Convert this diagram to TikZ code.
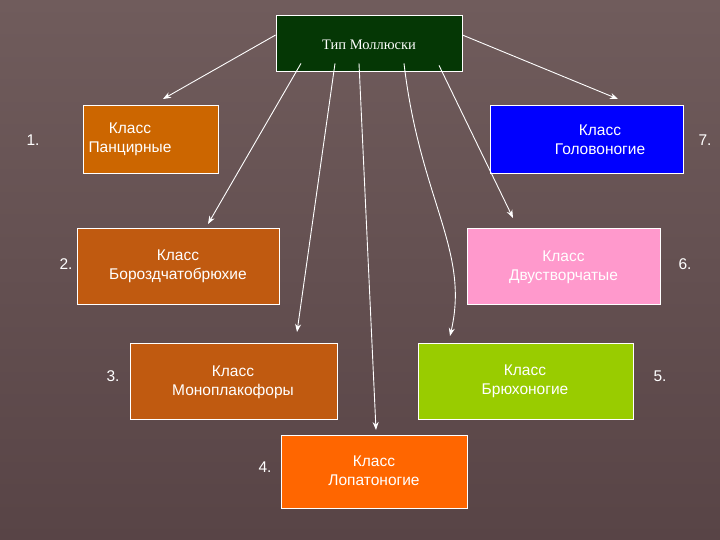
\documentclass[tikz,border=0pt]{standalone}
\usepackage{fontspec}
\setmainfont{Liberation Sans}
\newfontfamily\serifru{Liberation Serif}
\usetikzlibrary{arrows.meta}
\begin{document}
\begin{tikzpicture}[x=1pt,y=-1pt,
 box/.style={draw=white,line width=0.8pt,inner sep=0pt},
 txt/.style={text=white,align=center,font=\fontsize{15.5}{19}\selectfont},
 num/.style={text=white,font=\fontsize{15.5}{19}\selectfont},
 arr/.style={draw=white,line width=0.9pt,-{Stealth[length=8pt,width=6pt]}}]
\shade[top color={rgb,255:red,112;green,92;blue,92},bottom color={rgb,255:red,88;green,68;blue,70}] (0,0) rectangle (720,540);
\useasboundingbox (0,0) rectangle (720,540);
\node[box,fill={rgb,255:red,5;green,55;blue,5},minimum width=186pt,minimum height=56pt] (top) at (369,43) {};
\node[txt,font=\serifru\fontsize{14.5}{17}\selectfont] (topt) at (369,45) {Тип Моллюски};
\node[box,fill={rgb,255:red,204;green,102;blue,0},minimum width=135pt,minimum height=68pt] (a) at (150.5,139) {};
\node[txt] (at) at (130,139) {Класс\\Панцирные};
\node[box,fill={rgb,255:red,0;green,0;blue,255},minimum width=193pt,minimum height=68pt] (g) at (586.5,139) {};
\node[txt] (gt) at (600,140) {Класс\\Головоногие};
\node[box,fill={rgb,255:red,192;green,90;blue,16},minimum width=202pt,minimum height=76pt] (b) at (178,266) {};
\node[txt] (bt) at (178,266) {Класс\\Бороздчатобрюхие};
\node[box,fill={rgb,255:red,255;green,153;blue,204},minimum width=193pt,minimum height=76pt] (d) at (563.5,266) {};
\node[txt] (dt) at (563.5,267) {Класс\\Двустворчатые};
\node[box,fill={rgb,255:red,192;green,90;blue,16},minimum width=207pt,minimum height=76pt] (m) at (233.5,381) {};
\node[txt] (mt) at (233,382) {Класс\\Моноплакофоры};
\node[box,fill={rgb,255:red,153;green,204;blue,0},minimum width=215pt,minimum height=76pt] (br) at (525.5,381) {};
\node[txt] (brt) at (525,381) {Класс\\Брюхоногие};
\node[box,fill={rgb,255:red,255;green,102;blue,0},minimum width=186pt,minimum height=73pt] (l) at (374,471.5) {};
\node[txt] (lt) at (374,471) {Класс\\Лопатоногие};
\node[num] (n1) at (33,140) {1.};
\node[num] (n2) at (66,264) {2.};
\node[num] (n3) at (113,376) {3.};
\node[num] (n4) at (265,467) {4.};
\node[num] (n5) at (660,376) {5.};
\node[num] (n6) at (685,264) {6.};
\node[num] (n7) at (705,140) {7.};
\coordinate (ea) at (163,99);
\coordinate (eb) at (208,224);
\coordinate (em) at (297,332);
\coordinate (el) at (376,430);
\coordinate (ebr) at (450,336);
\coordinate (ed) at (513,218);
\coordinate (eg) at (618,99);
\draw[arr] (top.west) ++(0,-8) -- (ea);
\draw[arr] ([xshift=-68pt,yshift=8pt]top.south) -- (eb);
\draw[arr] ([xshift=-34pt,yshift=8pt]top.south) -- (em);
\draw[arr] ([xshift=-10pt,yshift=8pt]top.south) -- (el);
\draw[arr] ([xshift=35pt,yshift=8pt]top.south) .. controls (420,200) and (470,250) .. (ebr);
\draw[arr] ([xshift=70pt,yshift=6pt]top.south) -- (ed);
\draw[arr] (top.east) ++(0,-8) -- (eg);
\end{tikzpicture}
\end{document}
